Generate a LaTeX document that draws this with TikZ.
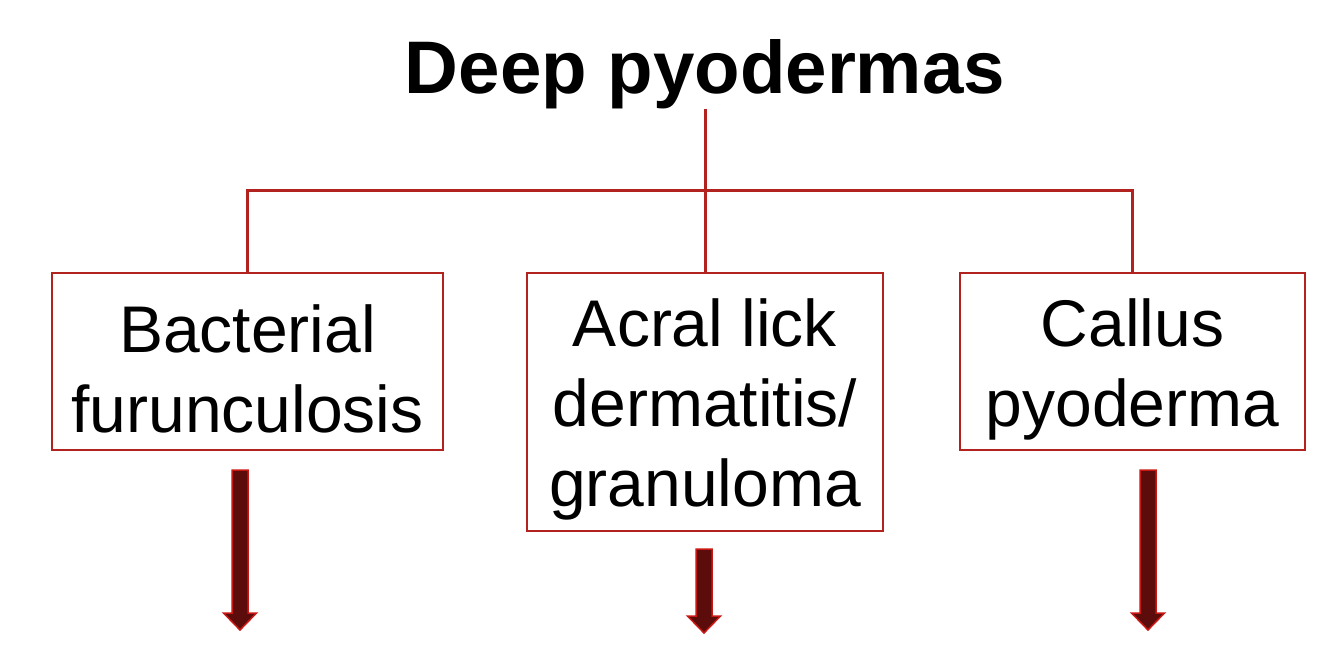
\documentclass[tikz,border=0pt]{standalone}
\usepackage{fontspec}
\setmainfont{Liberation Sans}
\usepackage{xcolor}

\definecolor{linered}{RGB}{178,34,30}
\definecolor{arrowedge}{RGB}{200,24,20}
\definecolor{arrowfill}{RGB}{92,12,10}

% fat arrow: x, top, tip
\newcommand{\fatarrow}[3]{%
  \draw[draw=arrowedge, fill=arrowfill, line width=1.5pt, line join=miter]
    (#1-8,#2) -- (#1+8,#2) -- (#1+8,#3-17) -- (#1+16.5,#3-17)
    -- (#1,#3) -- (#1-16.5,#3-17) -- (#1-8,#3-17) -- cycle;}
\newcommand{\topgap}{\rule{0pt}{63pt}}

\begin{document}
\begin{tikzpicture}[x=1pt,y=-1pt,
  box/.style={draw=linered, line width=2pt, align=center, inner sep=0pt,
    font=\fontsize{66}{80}\selectfont},
  link/.style={draw=linered, line width=3pt}]
\useasboundingbox (0,0) rectangle (1334,649);

\node[font=\bfseries\fontsize{74.5}{88}\selectfont, anchor=base, inner sep=0pt]
  (title) at (705,93) {Deep pyodermas};

\node[box, minimum width=391pt, minimum height=177pt] (furunc) at (247.5,361.5)
  {\topgap Bacterial\\furunculosis};
\node[box, minimum width=356pt, minimum height=258pt] (acral) at (705,402)
  {\topgap Acral lick\\dermatitis/\\granuloma};
\node[box, minimum width=345pt, minimum height=177pt] (callus) at (1132.5,361.5)
  {\topgap Callus\\pyoderma};

\coordinate (bar) at (0,190);
\draw[link] (title.south) -- (acral.north);
\draw[link] (furunc.north) -- (furunc.north |- bar) -- (callus.north |- bar)
  -- (callus.north);

\foreach \x/\top/\tip in {240/470/630, 704/549/633, 1148/470/630}{
  \fatarrow{\x}{\top}{\tip}
}
\end{tikzpicture}
\end{document}
